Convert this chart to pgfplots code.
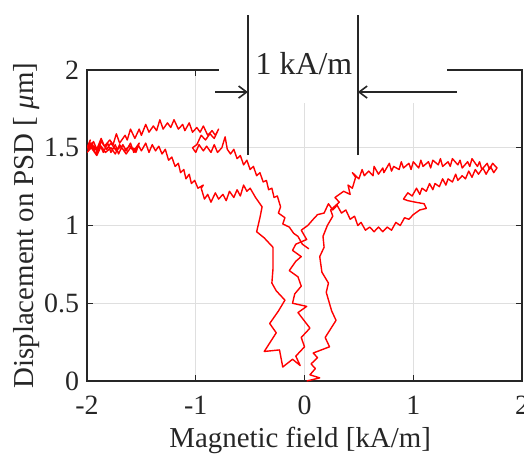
\documentclass[border=0pt]{standalone}
\usepackage{fontspec}
\setmainfont{Liberation Serif}
\usepackage{pgfplots}
\pgfplotsset{compat=1.18}
\usetikzlibrary{arrows.meta}

\definecolor{axgray}{RGB}{38,38,38}
\definecolor{gridgray}{RGB}{223,223,223}

\begin{document}
\begin{tikzpicture}
\begin{axis}[
    scale only axis,
    width=217.5bp, height=155.5bp,
    xmin=-2, xmax=2, ymin=0, ymax=2,
    xtick={-2,-1,0,1,2}, ytick={0,0.5,1,1.5,2},
    /pgf/number format/assume math mode=true,
    tick label style={font=\fontsize{14}{16}\selectfont, text=axgray},
    xticklabel style={anchor=base, yshift=-16.5bp},
    yticklabel style={xshift=-0.5bp},
    tick align=inside, major tick length=3bp,
    tick style={axgray, line width=0.5bp},
    axis line style={axgray, line width=1bp},
    grid=major, major grid style={gridgray, line width=0.5bp},
    xlabel={Magnetic field [kA/m]},
    ylabel={Displacement on PSD [ \textit{μ}m]},
    label style={font=\fontsize{14.5}{17}\selectfont, text=axgray},
    xlabel style={at={(axis description cs:0.49,-0.215)}, anchor=base},
    ylabel style={at={(axis description cs:-0.140,0.5)}, anchor=center},
]
% one continuous noisy trace: up the right strand, right lobe, down the middle,
% up the left strand, left lobe, back into the centre
\addplot[red, line width=0.7bp, line join=round] coordinates {
(0.02,0.00) (0.14,0.02) (0.05,0.04) (0.10,0.08) (0.06,0.11) (0.12,0.15) (0.08,0.18) (0.23,0.22) (0.19,0.28) (0.29,0.39) (0.25,0.45) (0.20,0.57) (0.22,0.63) (0.16,0.70) (0.14,0.80) (0.18,0.86) (0.17,0.93) (0.21,1.00) (0.26,1.06) (0.24,1.10) (0.32,1.15) (0.28,1.18) (0.36,1.22) (0.42,1.20)
(0.40,1.26) (0.44,1.24) (0.47,1.31) (0.44,1.34) (0.50,1.30) (0.53,1.36) (0.55,1.32) (0.59,1.35) (0.63,1.32) (0.64,1.38) (0.68,1.33) (0.72,1.37) (0.73,1.34) (0.78,1.40) (0.80,1.35) (0.82,1.38) (0.87,1.36) (0.89,1.41) (0.91,1.37) (0.96,1.40) (0.98,1.36) (1.00,1.41) (1.05,1.37) (1.07,1.42) (1.09,1.38) (1.14,1.41) (1.16,1.37) (1.18,1.42) (1.23,1.39) (1.25,1.43) (1.27,1.38) (1.32,1.41) (1.34,1.38) (1.36,1.43) (1.41,1.39) (1.43,1.42) (1.45,1.37) (1.50,1.41) (1.52,1.38) (1.54,1.43) (1.59,1.38) (1.61,1.41) (1.63,1.36) (1.68,1.40) (1.70,1.36) (1.73,1.40) (1.77,1.37) (1.74,1.34) (1.71,1.38) (1.67,1.33) (1.64,1.37)
(1.60,1.33) (1.57,1.36) (1.54,1.31) (1.51,1.35) (1.48,1.30) (1.45,1.32) (1.41,1.29) (1.39,1.33) (1.36,1.28) (1.32,1.30) (1.30,1.26) (1.27,1.30) (1.24,1.25) (1.20,1.27) (1.18,1.23) (1.15,1.27) (1.12,1.22) (1.08,1.24) (1.06,1.20) (1.03,1.24) (0.99,1.19) (0.95,1.21) (0.91,1.17) (0.95,1.16) (1.02,1.15) (1.10,1.14) (1.12,1.11) (1.06,1.10) (1.00,1.07) (0.96,1.04) (0.92,1.05) (0.88,1.00) (0.84,1.02) (0.80,0.97) (0.76,0.99) (0.72,0.96) (0.68,0.99) (0.64,0.96) (0.60,0.99) (0.56,0.97) (0.52,1.02) (0.49,1.00) (0.46,1.06) (0.42,1.04) (0.38,1.10) (0.34,1.08) (0.30,1.13) (0.26,1.10) (0.22,1.14) (0.18,1.08) (0.12,1.07) (0.08,1.04)
(0.03,1.00) (-0.03,0.97) (0.02,0.91) (-0.08,0.88) (-0.11,0.84) (-0.03,0.80) (-0.08,0.77) (-0.14,0.71) (-0.06,0.67) (-0.03,0.61) (-0.09,0.56) (-0.11,0.50) (0.02,0.48) (-0.06,0.44) (0.05,0.34) (-0.03,0.28) (0.00,0.22) (-0.08,0.16) (-0.04,0.10) (-0.11,0.14)
(-0.20,0.09) (-0.23,0.20) (-0.37,0.19) (-0.26,0.31) (-0.32,0.37) (-0.24,0.45) (-0.18,0.52) (-0.26,0.58) (-0.30,0.63) (-0.29,0.72) (-0.29,0.86) (-0.37,0.92) (-0.44,0.96) (-0.41,1.05) (-0.39,1.12) (-0.45,1.18) (-0.50,1.24)
(-0.53,1.22) (-0.56,1.26) (-0.59,1.19) (-0.62,1.23) (-0.65,1.18) (-0.69,1.22) (-0.72,1.16) (-0.75,1.20) (-0.79,1.17) (-0.82,1.21) (-0.86,1.15) (-0.89,1.20) (-0.92,1.17) (-0.95,1.24) (-0.93,1.26) (-0.98,1.24) (-1.01,1.29) (-1.04,1.27) (-1.06,1.33) (-1.09,1.30) (-1.11,1.36) (-1.14,1.34) (-1.16,1.40) (-1.19,1.38) (-1.22,1.44) (-1.25,1.42) (-1.28,1.49) (-1.31,1.46) (-1.34,1.51) (-1.37,1.48) (-1.40,1.52) (-1.43,1.47) (-1.46,1.53) (-1.50,1.48) (-1.53,1.52) (-1.57,1.47) (-1.60,1.53) (-1.64,1.48) (-1.67,1.52) (-1.71,1.46) (-1.74,1.52) (-1.78,1.47) (-1.81,1.53) (-1.85,1.47) (-1.88,1.52) (-1.92,1.46) (-1.95,1.51) (-2.00,1.47)
(-1.96,1.50) (-1.91,1.45) (-1.87,1.51) (-1.83,1.47) (-1.78,1.50) (-1.74,1.46) (-1.70,1.52) (-1.66,1.48) (-1.61,1.51) (-1.56,1.49) (-1.52,1.53) (-1.55,1.47) (-1.60,1.50) (-1.64,1.46) (-1.69,1.51) (-1.73,1.48) (-1.78,1.53) (-1.82,1.49) (-1.87,1.54) (-1.91,1.48) (-1.96,1.53) (-2.00,1.50)
(-1.97,1.55) (-1.99,1.49) (-1.94,1.54) (-1.91,1.49) (-1.87,1.56) (-1.84,1.51) (-1.79,1.55) (-1.76,1.52) (-1.73,1.59) (-1.70,1.53) (-1.65,1.58) (-1.63,1.55) (-1.60,1.62) (-1.56,1.56) (-1.52,1.62) (-1.50,1.58) (-1.46,1.65) (-1.43,1.60) (-1.39,1.64) (-1.36,1.61) (-1.33,1.68) (-1.30,1.62) (-1.26,1.66) (-1.23,1.63) (-1.20,1.68) (-1.16,1.62) (-1.12,1.65) (-1.10,1.61) (-1.06,1.66) (-1.03,1.60) (-0.99,1.63) (-0.96,1.60) (-0.93,1.64) (-0.89,1.58) (-0.85,1.61) (-0.82,1.58) (-0.79,1.62) (-0.83,1.56) (-0.87,1.59) (-0.91,1.55) (-0.95,1.58) (-0.99,1.52) (-1.03,1.50)
(-1.00,1.47) (-0.97,1.52) (-0.93,1.48) (-0.90,1.51) (-0.86,1.47) (-0.83,1.52) (-0.80,1.47) (-0.76,1.50) (-0.73,1.57) (-0.71,1.49) (-0.68,1.46) (-0.65,1.49) (-0.62,1.43) (-0.59,1.45) (-0.56,1.39) (-0.53,1.42) (-0.50,1.36) (-0.47,1.38) (-0.44,1.32) (-0.41,1.34) (-0.38,1.28) (-0.35,1.29) (-0.33,1.23) (-0.30,1.24) (-0.28,1.18) (-0.25,1.19) (-0.22,1.12) (-0.24,1.08) (-0.18,1.05) (-0.20,1.01) (-0.14,0.99) (-0.10,0.95) (-0.06,0.93) (-0.02,0.88) (0.04,0.85)
};
\coordinate (bl) at (rel axis cs:0,0);
\coordinate (tr) at (rel axis cs:1,1);
\coordinate (wa) at (axis cs:-0.79,1.788);
\coordinate (wb) at (axis cs:1.306,2.06);
\coordinate (v1a) at (axis cs:-0.52,1.453);
\coordinate (v1b) at (axis cs:-0.52,2.354);
\coordinate (v2a) at (axis cs:0.49,1.453);
\coordinate (v2b) at (axis cs:0.49,2.354);
\coordinate (a1) at (axis cs:-0.82,1.858);
\coordinate (a2) at (axis cs:1.40,1.858);
\coordinate (tx) at (axis cs:-0.005,1.974);
\end{axis}
% white patch that breaks the top frame, then the 1 kA/m marker
\fill[white] (wa) rectangle (wb);
\draw[axgray, line width=1bp] (v1a) -- (v1b);
\draw[axgray, line width=1bp] (v2a) -- (v2b);
\draw[axgray, line width=0.8bp, -{Straight Barb[length=4bp, width=6bp]}] (a1) -- (a1 -| v1a);
\draw[axgray, line width=0.8bp, -{Straight Barb[length=4bp, width=6bp]}] (a2) -- (a2 -| v2a);
\node[anchor=base, inner sep=0pt, text=axgray, font=\fontsize{16}{19}\selectfont] at (tx) {1 kA/m};
\pgfresetboundingbox
\path[use as bounding box] ([shift={(-43.5bp,-36bp)}]bl) rectangle ([shift={(1bp,35bp)}]tr);
\end{tikzpicture}
\end{document}
